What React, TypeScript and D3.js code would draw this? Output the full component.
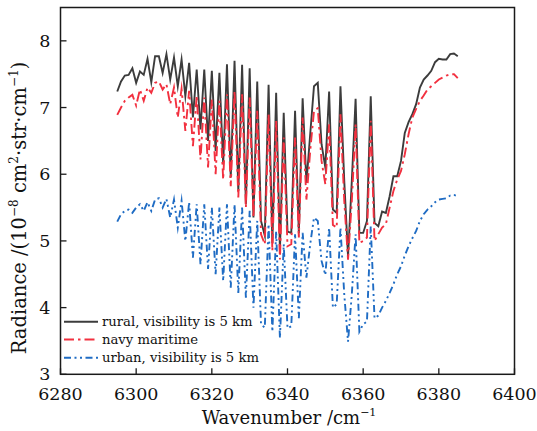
import React from "react";
import * as d3 from "d3";

const wavenumbers = [
  6295, 6296, 6297, 6298, 6299, 6300, 6301, 6302, 6303, 6304,
  6305, 6306, 6307, 6308, 6309, 6310, 6311, 6312, 6313, 6314,
  6315, 6316, 6317, 6318, 6319, 6320, 6321, 6322, 6323, 6324,
  6325, 6326, 6327, 6328, 6329, 6330, 6331, 6332, 6333, 6334,
  6335, 6336, 6337, 6338, 6339, 6340, 6341, 6342, 6343, 6344,
  6345, 6346, 6347, 6348, 6349, 6350, 6351, 6352, 6353, 6354,
  6355, 6356, 6357, 6358, 6359, 6360, 6361, 6362, 6363, 6364,
  6365, 6366, 6367, 6368, 6369, 6370, 6371, 6372, 6373, 6374,
  6375, 6376, 6377, 6378, 6379, 6380, 6381, 6382, 6383, 6384,
  6385,
];

const rural = [
  7.24, 7.39, 7.48, 7.49, 7.59, 7.37, 7.54, 7.49, 7.73, 7.38,
  7.77, 7.77, 7.52, 7.80, 7.42, 7.75, 7.32, 7.72, 7.17, 7.67,
  6.85, 7.57, 6.67, 7.57, 6.50, 7.55, 6.35, 7.52, 6.15, 7.65,
  5.95, 7.70, 5.75, 7.64, 5.55, 7.59, 5.35, 7.39, 5.30, 5.08,
  7.34, 4.97, 7.22, 4.85, 6.92, 5.14, 5.12, 6.95, 5.11, 7.14,
  5.87, 6.60, 7.32, 7.37, 6.45, 6.10, 7.24, 5.47, 5.42, 7.32,
  5.90, 4.77, 5.90, 7.13, 5.12, 5.12, 5.30, 7.17, 5.27, 5.22,
  5.44, 5.42, 5.67, 5.97, 5.97, 6.20, 6.62, 6.78, 6.90, 7.05,
  7.30, 7.42, 7.48, 7.55, 7.68, 7.73, 7.72, 7.72, 7.80, 7.81,
  7.77,
];

const navy = [
  6.89, 7.00, 7.10, 7.15, 7.19, 7.03, 7.27, 7.10, 7.30, 7.22,
  7.37, 7.39, 7.27, 7.35, 7.05, 7.30, 6.85, 7.28, 6.65, 7.25,
  6.42, 7.18, 6.22, 7.15, 6.10, 7.12, 6.00, 7.10, 5.92, 7.20,
  5.82, 7.25, 5.65, 7.20, 5.50, 7.15, 5.35, 6.95, 5.10, 4.95,
  6.90, 4.85, 6.80, 4.72, 6.55, 4.92, 4.95, 6.55, 5.05, 6.85,
  5.62, 6.35, 6.95, 6.99, 6.20, 5.85, 6.75, 5.24, 5.20, 6.90,
  5.60, 4.72, 5.60, 6.75, 4.97, 5.00, 5.05, 6.80, 5.00, 5.10,
  5.20, 5.25, 5.50, 5.75, 5.92, 6.05, 6.30, 6.60, 6.85, 6.98,
  7.10, 7.18, 7.27, 7.32, 7.37, 7.42, 7.45, 7.48, 7.50, 7.50,
  7.44,
];

const urban = [
  5.29, 5.40, 5.45, 5.47, 5.42, 5.50, 5.55, 5.45, 5.58, 5.45,
  5.62, 5.64, 5.50, 5.63, 5.35, 5.62, 5.20, 5.60, 5.00, 5.58,
  4.75, 5.55, 4.65, 5.55, 4.58, 5.50, 4.50, 5.50, 4.40, 5.55,
  4.30, 5.55, 4.22, 5.50, 4.15, 5.45, 4.00, 5.30, 3.75, 3.70,
  5.25, 3.64, 5.15, 3.54, 4.95, 3.69, 3.72, 5.10, 3.84, 5.12,
  4.45, 4.95, 5.35, 5.30, 4.70, 4.49, 5.20, 4.00, 4.05, 5.20,
  4.20, 3.49, 4.20, 5.10, 3.64, 3.75, 3.79, 5.22, 3.84, 3.88,
  4.00, 4.10, 4.22, 4.35, 4.50, 4.62, 4.78, 4.92, 5.04, 5.15,
  5.30, 5.40, 5.47, 5.52, 5.58, 5.62, 5.63, 5.64, 5.68, 5.69,
  5.67,
];

const xTicks = [6280, 6300, 6320, 6340, 6360, 6380, 6400];
const yTicks = [3, 4, 5, 6, 7, 8];
const seriesLabels = [
  "rural, visibility is 5 km",
  "navy maritime",
  "urban, visibility is 5 km",
];

const W = 537;
const H = 431;
const left = 60.5;
const right = 514.5;
const top = 7.5;
const bottom = 374.3;
const FONT = "DejaVu Serif, Liberation Serif, serif";
const textStyle = { fontFamily: FONT };

export default function App() {
  const x = d3.scaleLinear().domain([6280, 6400]).range([left, right]);
  const y = d3.scaleLinear().domain([3, 8.5]).range([bottom, top]);

  const series = [
    { name: seriesLabels[0], values: rural, color: "#3c3c3c", dash: "none", width: 1.9 },
    { name: seriesLabels[1], values: navy, color: "#f2303f", dash: "10,4,2.5,4", width: 1.9 },
    { name: seriesLabels[2], values: urban, color: "#1f6cc4", dash: "7,3.5,2,3.5,2,3.5", width: 1.9 },
  ];

  const lineGen = (vals: number[]) =>
    d3
      .line<number>()
      .x((_, i) => x(wavenumbers[i]))
      .y((d) => y(d))(vals) || "";

  const legendX0 = 64;
  const legendX1 = 98;
  const legendY = [321.7, 339.5, 357.7];

  return (
    <svg
      width={W}
      height={H}
      style={{ position: "absolute", left: 0, top: 0, background: "#fff" }}
    >
      <rect x={0} y={0} width={W} height={H} fill="#fff" />
      {series.map((s) => (
        <path
          key={s.name}
          d={lineGen(s.values)}
          fill="none"
          stroke={s.color}
          strokeWidth={s.width}
          strokeDasharray={s.dash}
          strokeLinejoin="miter"
          strokeMiterlimit={10}
        />
      ))}
      <rect
        x={left}
        y={top}
        width={right - left}
        height={bottom - top}
        fill="none"
        stroke="#1a1a1a"
        strokeWidth={1.5}
      />
      {xTicks.map((t) => (
        <g key={"x" + t}>
          <line x1={x(t)} x2={x(t)} y1={bottom} y2={bottom - 6} stroke="#1a1a1a" strokeWidth={1.3} />
          <text x={x(t)} y={399.5} textAnchor="middle" fontSize={17.5} fill="#111" style={textStyle}>
            {t}
          </text>
        </g>
      ))}
      {yTicks.map((t) => (
        <g key={"y" + t}>
          <line x1={left} x2={left + 6} y1={y(t)} y2={y(t)} stroke="#1a1a1a" strokeWidth={1.3} />
          <text x={50.5} y={y(t) + 6} textAnchor="end" fontSize={17.5} fill="#111" style={textStyle}>
            {t}
          </text>
        </g>
      ))}
      <text x={289} y={424} textAnchor="middle" fontSize={18} fill="#111" style={textStyle}>
        Wavenumber /cm
        <tspan dy={-8} fontSize={11}>−1</tspan>
      </text>
      <text
        transform={`translate(26,${208}) rotate(-90)`}
        textAnchor="middle"
        fontSize={19.5}
        fill="#111"
        style={textStyle}
      >
        Radiance /(10
        <tspan dy={-8} fontSize={12}>−8</tspan>
        <tspan dy={8}> cm</tspan>
        <tspan dy={-8} fontSize={12}>2</tspan>
        <tspan dy={8}>·str·cm</tspan>
        <tspan dy={-8} fontSize={12}>−1</tspan>
        <tspan dy={8}>)</tspan>
      </text>
      {series.map((s, i) => (
        <g key={"lg" + i}>
          <line
            x1={legendX0}
            x2={legendX1}
            y1={legendY[i]}
            y2={legendY[i]}
            stroke={s.color}
            strokeWidth={2}
            strokeDasharray={s.dash}
          />
          <text x={102} y={legendY[i] + 4.5} fontSize={13.2} fill="#111" style={textStyle}>
            {s.name}
          </text>
        </g>
      ))}
    </svg>
  );
}
